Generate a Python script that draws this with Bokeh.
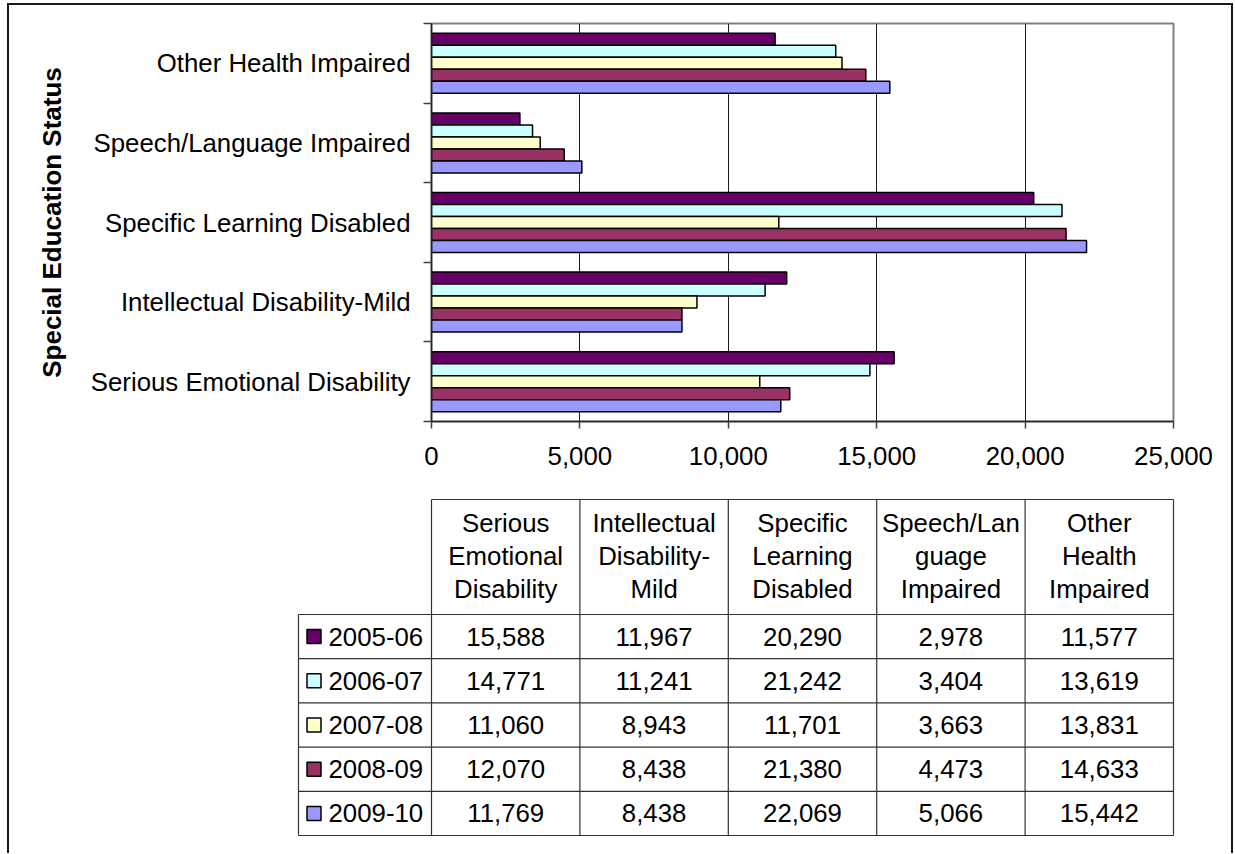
from bokeh.plotting import figure
from bokeh.models import Range1d, FixedTicker, NumeralTickFormatter, CustomJSTickFormatter
from bokeh.layouts import column
from bokeh.embed import file_html
from bokeh.resources import INLINE
from bokeh.core.properties import value

# ---------------- data ----------------
categories = ["Serious Emotional Disability", "Intellectual Disability-Mild",
              "Specific Learning Disabled", "Speech/Language Impaired",
              "Other Health Impaired"]
years = ["2005-06", "2006-07", "2007-08", "2008-09", "2009-10"]
v_2005_06 = [15588, 11967, 20290, 2978, 11577]
v_2006_07 = [14771, 11241, 21242, 3404, 13619]
v_2007_08 = [11060, 8943, 11701, 3663, 13831]
v_2008_09 = [12070, 8438, 21380, 4473, 14633]
v_2009_10 = [11769, 8438, 22069, 5066, 15442]
colors = ["#660066", "#CCFFFF", "#FFFFCC", "#993366", "#9999FF"]
x_ticks = [0, 5000, 10000, 15000, 20000, 25000]
table_headers = ["Serious\nEmotional\nDisability", "Intellectual\nDisability-\nMild",
                 "Specific\nLearning\nDisabled", "Speech/Lan\nguage\nImpaired",
                 "Other\nHealth\nImpaired"]
series = [v_2005_06, v_2006_07, v_2007_08, v_2008_09, v_2009_10]

FONT = "Liberation Sans"
FS = "25.8px"

# ---------------- chart ----------------
W = 1222
L, FW, T, FH, H1 = 422, 742, 18, 398, 475
p = figure(width=W, height=H1, x_range=Range1d(0, 25000), y_range=Range1d(0, len(categories)),
           output_backend="svg", toolbar_location=None,
           min_border_left=L, min_border_right=W - L - FW,
           min_border_top=T, min_border_bottom=H1 - T - FH)

n = len(years)
bar_h = 0.1508
for j, (yr, vals, col) in enumerate(zip(years, series, colors)):
    off = (n - 1) / 2 - j
    ys = [i + 0.5 + off * bar_h for i in range(len(categories))]
    p.hbar(y=ys, left=0, right=vals, height=bar_h, fill_color=col,
           line_color="black", line_width=1.5)

p.xaxis.ticker = FixedTicker(ticks=x_ticks)
p.xaxis.formatter = NumeralTickFormatter(format="0,0")
p.xaxis.major_tick_out = 7
p.xaxis.major_tick_in = 0
p.xaxis.minor_tick_line_color = None
p.xaxis.major_label_standoff = 18

p.yaxis.ticker = FixedTicker(ticks=[i + 0.5 for i in range(len(categories))],
                             minor_ticks=list(range(len(categories) + 1)))
p.yaxis.formatter = CustomJSTickFormatter(args=dict(cats=categories),
                                          code="return cats[Math.floor(tick)] || '';")
p.yaxis.major_tick_out = 0
p.yaxis.major_tick_in = 0
p.yaxis.minor_tick_out = 8
p.yaxis.minor_tick_in = 0
p.yaxis.minor_tick_line_color = "#404040"
p.yaxis.minor_tick_line_width = 1.5
p.yaxis.major_label_standoff = 13
p.yaxis.axis_label = "Special Education Status"
p.yaxis.axis_label_text_font = FONT
p.yaxis.axis_label_text_font_size = "26px"
p.yaxis.axis_label_text_font_style = "bold"
p.yaxis.axis_label_text_color = "black"
p.yaxis.axis_label_standoff = 21

for ax in (p.xaxis, p.yaxis):
    ax.major_label_text_font = FONT
    ax.major_label_text_font_size = FS
    ax.major_label_text_color = "black"
    ax.axis_line_color = "#262626"
    ax.axis_line_width = 1.5
    ax.major_tick_line_color = "#404040"
    ax.major_tick_line_width = 1.5

p.xgrid.ticker = FixedTicker(ticks=x_ticks)
p.xgrid.grid_line_color = "#1a1a1a"
p.xgrid.grid_line_width = 1
p.ygrid.grid_line_color = None
p.outline_line_color = "#808080"
p.outline_line_width = 2

# ---------------- table ----------------
H2 = 373
t = figure(width=W, height=H2, x_range=Range1d(0, W), y_range=Range1d(H2, 0),
           min_border=0, output_backend="svg", toolbar_location=None,
           x_axis_location=None, y_axis_location=None)
t.grid.visible = False
t.outline_line_color = None

for fig in (p, t):
    try:
        fig.frame_align = False
    except Exception:
        pass

col_w = FW / len(categories)
col_edges = [L + k * col_w for k in range(len(categories) + 1)]
legend_left = 289
header_top, header_bot = 19, 134
row_h = 44.2
row_edges = [header_bot + r * row_h for r in range(len(years) + 1)]
bottom = row_edges[-1]

xs0, ys0, xs1, ys1 = [], [], [], []
xs0.append(col_edges[0]); xs1.append(col_edges[-1]); ys0.append(header_top); ys1.append(header_top)
for ye in row_edges:
    xs0.append(legend_left); xs1.append(col_edges[-1]); ys0.append(ye); ys1.append(ye)
for xe in col_edges:
    xs0.append(xe); xs1.append(xe); ys0.append(header_top); ys1.append(bottom)
xs0.append(legend_left); xs1.append(legend_left); ys0.append(header_bot); ys1.append(bottom)
t.segment(x0=xs0, y0=ys0, x1=xs1, y1=ys1, line_color="#333333", line_width=1.2)

hx, hy, ht = [], [], []
hc = (header_top + header_bot) / 2 - 1.5
for k, h in enumerate(table_headers):
    lines = h.split("\n")
    for i, ln in enumerate(lines):
        hx.append((col_edges[k] + col_edges[k + 1]) / 2)
        hy.append(hc + (i - (len(lines) - 1) / 2) * 33)
        ht.append(ln)
t.text(x=hx, y=hy, text=ht, text_align="center", text_baseline="middle",
       text_font=value(FONT), text_font_size=FS, text_color="black")

vx, vy, vt = [], [], []
for r, vals in enumerate(series):
    for k, v in enumerate(vals):
        vx.append((col_edges[k] + col_edges[k + 1]) / 2)
        vy.append((row_edges[r] + row_edges[r + 1]) / 2)
        vt.append(f"{v:,}")
t.text(x=vx, y=vy, text=vt, text_align="center", text_baseline="middle",
       text_font=value(FONT), text_font_size=FS, text_color="black")

ry = [(row_edges[r] + row_edges[r + 1]) / 2 for r in range(len(years))]
t.rect(x=[legend_left + 15.5] * len(years), y=ry, width=14, height=14,
       width_units="screen", height_units="screen",
       fill_color=colors, line_color="black", line_width=1.5)
t.text(x=[legend_left + 30] * len(years), y=ry, text=years, text_align="left",
       text_baseline="middle", text_font=value(FONT), text_font_size=FS, text_color="black")

layout = column(p, t, styles={"border-left": "2px solid #1a1a1a",
                              "border-right": "2px solid #1a1a1a",
                              "border-top": "2px solid #1a1a1a",
                              "margin-left": "7px", "margin-top": "3px"})

open("out.html", "w").write(file_html(layout, INLINE))
